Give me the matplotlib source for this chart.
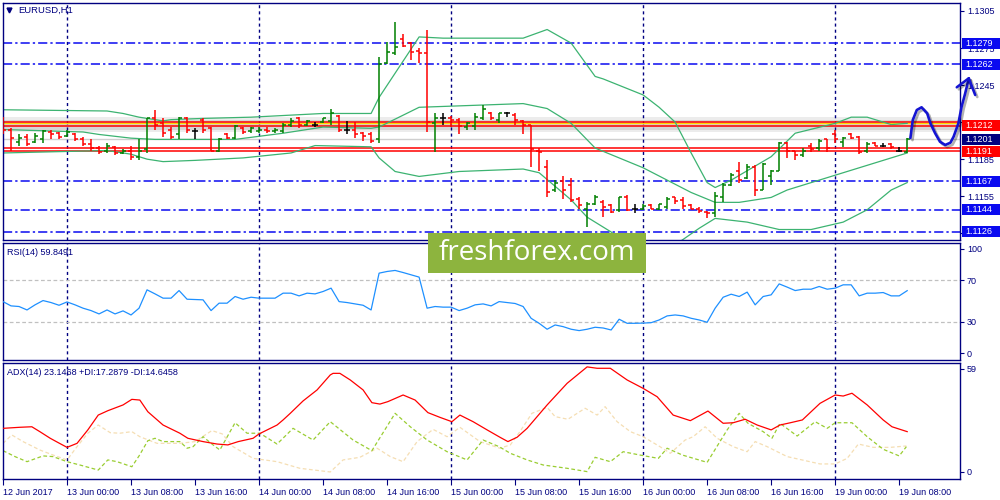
import matplotlib
matplotlib.use("Agg")
import matplotlib.pyplot as plt
import matplotlib.patheffects as pe
from matplotlib.patches import Rectangle
from matplotlib.transforms import blended_transform_factory
import numpy as np

plt.rcParams['font.family'] = ['Liberation Sans', 'DejaVu Sans']

NAVY = '#000080'
BLUE = '#0a0af0'

# time axis (bar index -> label)
label_bars = [0, 8, 16, 24, 32, 40, 48, 56, 64, 72, 80, 88, 96, 104, 112]
time_labels = ["12 Jun 2017", "13 Jun 00:00", "13 Jun 08:00", "13 Jun 16:00",
               "14 Jun 00:00", "14 Jun 08:00", "14 Jun 16:00", "15 Jun 00:00",
               "15 Jun 08:00", "15 Jun 16:00", "16 Jun 00:00", "16 Jun 08:00",
               "16 Jun 16:00", "19 Jun 00:00", "19 Jun 08:00"]
day_breaks = [8, 32, 56, 80, 104]

# EURUSD H1 bars, in points (price * 1e4)
opens_pt = [11217, 11209, 11199, 11203, 11199, 11201, 11207, 11206, 11204, 11205,
            11201, 11197, 11194, 11192, 11195, 11190, 11192, 11187, 11193, 11218,
            11214, 11209, 11205, 11218, 11208, 11217, 11210, 11192, 11205, 11202,
            11210, 11208, 11208, 11209, 11208, 11208, 11213, 11218, 11213, 11213,
            11215, 11216, 11220, 11209, 11209, 11206, 11205, 11201, 11263, 11271,
            11282, 11279, 11273, 11271, 11214, 11218, 11218, 11217, 11211, 11212,
            11218, 11222, 11217, 11222, 11221, 11216, 11213, 11192, 11179, 11160,
            11167, 11164, 11153, 11145, 11149, 11150, 11148, 11144, 11154, 11145,
            11145, 11148, 11145, 11146, 11154, 11152, 11148, 11145, 11142, 11141,
            11154, 11164, 11175, 11170, 11179, 11160, 11171, 11175, 11198, 11192,
            11188, 11196, 11194, 11201, 11205, 11199, 11205, 11203, 11192, 11198,
            11196, 11197, 11192, 11191]
highs_pt = [11219, 11210, 11205, 11205, 11206, 11209, 11209, 11207, 11209, 11206,
            11203, 11201, 11196, 11198, 11196, 11193, 11196, 11201, 11218, 11225,
            11218, 11211, 11219, 11219, 11210, 11218, 11211, 11202, 11206, 11213,
            11211, 11211, 11211, 11211, 11210, 11214, 11218, 11219, 11217, 11215,
            11218, 11226, 11221, 11216, 11215, 11207, 11207, 11268, 11280, 11296,
            11286, 11280, 11275, 11290, 11222, 11222, 11220, 11218, 11215, 11222,
            11229, 11223, 11222, 11223, 11222, 11217, 11213, 11194, 11184, 11168,
            11171, 11170, 11154, 11150, 11156, 11152, 11149, 11154, 11156, 11149,
            11149, 11149, 11149, 11154, 11154, 11154, 11149, 11146, 11143, 11158,
            11166, 11174, 11183, 11181, 11180, 11182, 11176, 11199, 11199, 11192,
            11194, 11198, 11201, 11201, 11209, 11203, 11206, 11204, 11199, 11199,
            11198, 11198, 11195, 11202]
lows_pt = [11205, 11192, 11196, 11196, 11198, 11198, 11201, 11201, 11203, 11200,
           11196, 11192, 11189, 11190, 11188, 11189, 11184, 11184, 11190, 11209,
           11203, 11201, 11201, 11206, 11201, 11206, 11192, 11191, 11201, 11201,
           11205, 11206, 11206, 11206, 11206, 11206, 11211, 11210, 11212, 11211,
           11214, 11213, 11207, 11205, 11202, 11200, 11198, 11198, 11262, 11269,
           11276, 11265, 11263, 11207, 11191, 11213, 11211, 11205, 11209, 11209,
           11217, 11217, 11214, 11219, 11213, 11205, 11179, 11175, 11154, 11158,
           11153, 11150, 11145, 11130, 11148, 11138, 11141, 11142, 11143, 11141,
           11144, 11145, 11144, 11145, 11149, 11145, 11145, 11141, 11137, 11138,
           11150, 11163, 11166, 11169, 11155, 11160, 11164, 11175, 11186, 11184,
           11187, 11191, 11192, 11191, 11198, 11195, 11201, 11189, 11190, 11196,
           11195, 11193, 11191, 11190]
closes_pt = [11209, 11202, 11202, 11197, 11204, 11208, 11205, 11203, 11207, 11201,
             11197, 11194, 11191, 11196, 11190, 11192, 11187, 11192, 11218, 11213,
             11206, 11203, 11218, 11209, 11208, 11209, 11192, 11201, 11202, 11212,
             11207, 11210, 11209, 11208, 11209, 11213, 11216, 11213, 11216, 11213,
             11218, 11222, 11209, 11209, 11205, 11204, 11200, 11262, 11272, 11276,
             11277, 11272, 11271, 11215, 11218, 11218, 11217, 11212, 11214, 11219,
             11226, 11218, 11222, 11222, 11217, 11213, 11193, 11191, 11158, 11166,
             11160, 11152, 11148, 11149, 11154, 11146, 11142, 11154, 11144, 11145,
             11147, 11145, 11149, 11153, 11151, 11147, 11145, 11143, 11141, 11155,
             11164, 11172, 11168, 11179, 11160, 11181, 11175, 11198, 11192, 11188,
             11192, 11193, 11200, 11194, 11201, 11202, 11202, 11191, 11197, 11196,
             11196, 11195, 11192, 11201]

# Bollinger bands (20)
bb_upper_t = [0, 13, 15, 17, 20, 21, 25, 31, 40, 46, 47, 52, 55, 65, 68, 71, 74, 75,
              80, 82, 84, 86, 88, 89, 91, 96, 99, 104, 106, 108, 111, 113]
bb_upper_pt = [11225, 11224, 11222, 11219, 11216, 11217, 11218, 11219, 11222, 11222,
               11235, 11284, 11283, 11283, 11290, 11279, 11252, 11250, 11237, 11227,
               11215, 11190, 11166, 11162, 11168, 11187, 11206, 11214, 11219, 11219,
               11213, 11214]
bb_mid_t = [0, 10, 12, 16, 19, 29, 35, 40, 46, 47, 52, 65, 68, 71, 74, 80, 86, 89,
            92, 96, 98, 104, 109, 113]
bb_mid_pt = [11209, 11207, 11205, 11202, 11201, 11201, 11206, 11211, 11210, 11211,
             11227, 11230, 11226, 11214, 11194, 11178, 11158, 11150, 11150, 11154,
             11160, 11172, 11182, 11190]
bb_lower_t = [0, 13, 16, 18, 20, 24, 30, 36, 39, 46, 47, 49, 52, 57, 65, 67, 71, 73,
              76, 79, 82, 85, 87, 89, 93, 97, 101, 105, 108, 111, 113]
bb_lower_pt = [11190, 11192, 11189, 11185, 11183, 11184, 11186, 11190, 11196, 11195,
               11186, 11175, 11171, 11175, 11177, 11174, 11152, 11138, 11126, 11111,
               11107, 11120, 11129, 11137, 11134, 11128, 11128, 11134, 11144, 11160,
               11166]

# RSI(14), one value per bar
rsi = [49.3, 45.2, 44.6, 41.3, 46.2, 50.3, 48.4, 45.8, 49.0, 46.2,
       43.0, 40.7, 37.5, 41.3, 37.5, 40.4, 36.5, 43.0, 60.6, 56.7,
       52.6, 52.6, 59.9, 51.6, 51.3, 51.0, 40.7, 47.8, 47.8, 54.2,
       51.6, 53.5, 52.6, 52.6, 52.6, 57.4, 57.4, 54.8, 57.4, 56.7,
       59.0, 62.2, 49.3, 48.4, 47.1, 45.8, 41.3, 76.6, 78.2, 79.2,
       77.2, 75.0, 72.8, 43.0, 44.6, 44.0, 44.0, 40.7, 43.0, 46.2,
       47.1, 45.2, 49.3, 48.4, 47.5, 44.6, 33.3, 28.5, 22.8, 26.9,
       25.3, 22.8, 21.5, 22.8, 24.7, 24.0, 22.1, 32.4, 28.5, 28.5,
       28.7, 29.1, 31.7, 35.6, 36.5, 35.6, 33.3, 31.7, 29.5, 43.0,
       53.5, 56.4, 54.2, 58.4, 46.2, 54.2, 55.8, 66.3, 63.2, 59.9,
       61.2, 61.2, 63.8, 61.2, 62.2, 65.4, 65.4, 54.8, 57.4, 57.4,
       58.0, 54.8, 54.8, 59.8]

# ADX(14)
adx_t = [0, 2.1, 3.6, 4.6, 5.9, 6.9, 8, 9.25, 10.6, 11.9,
         13.1, 15, 16.1, 17.1, 18.1, 20, 22.1, 23.1, 25, 26.75,
         28.1, 29.4, 31.25, 32, 34.25, 35, 35.9, 37.5, 39.25, 40.9,
         41.25, 42.1, 43.4, 45, 46.1, 47.1, 48.1, 50, 51.5, 53.1,
         54.6, 56.1, 57.1, 58.75, 60.5, 62.1, 63.1, 64.25, 65.5, 68,
         70.5, 73, 74.25, 75.9, 78, 80, 81.75, 83.75, 85.9, 88.1,
         90, 91.25, 92.75, 94.25, 96, 97.1, 98.4, 99.9, 102.1, 104,
         105, 106.1, 108, 110, 111.1, 113]
adx = [25.0, 25.6, 25.9, 23.1, 19.3, 16.8, 14.1, 16.4, 24.1, 32.6,
       35.1, 38.4, 41.6, 41.2, 34.5, 26.9, 22.2, 19.3, 17.4, 16.0,
       15.5, 17.4, 19.3, 21.8, 26.9, 29.8, 33.6, 40.7, 47.0, 55.6,
       56.5, 56.5, 52.7, 47.0, 39.7, 38.9, 40.3, 44.1, 41.2, 34.0,
       31.3, 28.8, 32.6, 28.8, 24.1, 19.9, 17.4, 19.9, 25.0, 38.4,
       50.8, 60.2, 59.4, 59.4, 52.7, 47.9, 43.1, 32.6, 29.4, 34.9,
       27.9, 28.2, 30.2, 26.9, 24.1, 26.9, 28.2, 29.8, 39.3, 44.1,
       43.5, 45.1, 38.4, 29.8, 25.9, 23.1]
pdi_t = [0, 1.5, 3, 5, 6.25, 8, 9.6, 11.9, 13.1, 14.25,
         16.1, 17, 18.1, 19, 20, 22.1, 23, 23.75, 25, 26.25,
         27.1, 29, 30.5, 32.1, 34.25, 36.25, 38.75, 40.9, 43.75, 46.1,
         49, 50.9, 53, 55.5, 58, 60, 62, 63.4, 65.5, 67.5,
         70.5, 73, 74, 75.9, 77.5, 79.6, 81.9, 83, 84.9, 88,
         90.5, 92, 93.1, 95, 96.1, 97.1, 99.25, 101.5, 103, 104,
         106.1, 108, 110, 112, 112.9]
pdi = [12.2, 8.8, 5.9, 9.2, 8.8, 5.9, 4.0, 1.1, 6.9, 5.9,
       3.0, 9.2, 17.9, 19.3, 17.4, 17.4, 13.6, 14.5, 20.2, 15.5,
       12.6, 28.2, 22.2, 22.2, 16.0, 25.0, 18.3, 28.8, 18.3, 12.2,
       33.6, 25.9, 18.3, 11.6, 6.9, 18.3, 14.5, 10.7, 6.9, 4.0,
       2.1, 0.2, 8.4, 5.9, 11.6, 9.7, 7.8, 13.6, 9.7, 5.5,
       24.1, 33.6, 27.9, 23.1, 19.3, 27.9, 20.6, 28.8, 25.0, 28.2,
       28.2, 20.2, 13.0, 9.2, 14.5]
mdi_t = [0, 1.1, 2.5, 4.6, 6.25, 8, 9.25, 10.6, 11.9, 13.4,
         14.6, 16.1, 17.1, 19.25, 22.1, 24, 26.1, 27.4, 28.75, 31.25,
         34.25, 37.1, 40.9, 42.5, 44.6, 46.75, 48.4, 50, 51.75, 53.75,
         55.5, 57.1, 59.6, 62.1, 63.4, 64.6, 66.1, 68, 69, 70.6,
         72.75, 74.25, 75.25, 76.75, 78.4, 80, 82.1, 83.4, 85.25, 86.25,
         87.75, 89.25, 91.25, 93, 94, 95.5, 98, 102.1, 104, 105.5,
         106.9, 108.75, 110.9, 112.9]
mdi = [16.4, 21.2, 17.4, 12.6, 9.7, 6.9, 14.5, 22.2, 26.9, 22.5,
       22.2, 23.1, 20.2, 16.4, 16.4, 17.4, 23.7, 21.8, 14.5, 7.8,
       5.9, 2.1, 0.0, 6.9, 8.4, 13.6, 8.8, 5.9, 17.4, 24.4,
       20.2, 25.6, 17.4, 13.6, 15.5, 23.1, 33.6, 37.0, 31.7, 30.2,
       36.5, 32.6, 37.4, 28.8, 23.1, 20.2, 14.5, 10.7, 18.3, 20.2,
       25.9, 19.3, 14.5, 11.6, 17.4, 14.5, 8.8, 4.6, 4.6, 7.8,
       16.0, 14.1, 14.1, 14.9]

# levels drawn on the chart
blue_levels = [1.1279, 1.1262, 1.1167, 1.1144, 1.1126]
red_upper = [1.12148, 1.12118]
red_lower = [1.11939, 1.11917]
bid_price = 1.1201
price_ticks = [1.1305, 1.1275, 1.1245, 1.1215, 1.1185, 1.1155, 1.1125]
price_boxes = [("1.1279", 1.1279, BLUE), ("1.1262", 1.1262, BLUE),
               ("1.1212", 1.1212, '#ff0000'), ("1.1201", 1.1201, NAVY),
               ("1.1191", 1.1191, '#ff0000'), ("1.1167", 1.1167, BLUE),
               ("1.1144", 1.1144, BLUE), ("1.1126", 1.1126, BLUE)]

# hand drawn forecast path
fc_t = [113.4, 113.7, 114.2, 114.8, 115.5, 115.9, 116.5, 117.1, 117.75, 118.4,
        118.8, 119.4, 119.8, 120.25, 120.7]
fc_p = [1.12021, 1.12167, 1.12248, 1.12270, 1.12221, 1.12140, 1.12059, 1.11991,
        1.11965, 1.11983, 1.12032, 1.12140, 1.12275, 1.12383, 1.12505]
fc_head_t = [119.2, 120.7, 121.5]
fc_head_p = [1.12432, 1.12505, 1.12370]

opens = np.array(opens_pt) / 1e4
highs = np.array(highs_pt) / 1e4
lows = np.array(lows_pt) / 1e4
closes = np.array(closes_pt) / 1e4
n = len(opens)
bars = np.arange(n)

fig = plt.figure(figsize=(10, 5), dpi=100, facecolor='white')
ax = fig.add_axes([0.0027, 0.52, 0.9573, 0.4746])
ax_rsi = fig.add_axes([0.0027, 0.28, 0.9573, 0.2346])
ax_adx = fig.add_axes([0.0027, 0.0414, 0.9573, 0.2332])

XMIN, XMAX = -0.04, 119.6
for a in (ax, ax_rsi, ax_adx):
    a.set_xlim(XMIN, XMAX)
    for s in a.spines.values():
        s.set_color(NAVY)
        s.set_linewidth(1.0)
    a.yaxis.tick_right()
    a.tick_params(axis='y', direction='out', length=3, width=0.8, color=NAVY,
                  labelcolor=NAVY, labelsize=6.5, pad=2)
    for d in day_breaks:
        a.axvline(d, color=NAVY, lw=1.0, ls=(0, (2.2, 2.2)), zorder=1)

# ---- price panel
ax.set_ylim(1.111951, 1.131172)
ax.set_xticks([])
ax.set_yticks(price_ticks)
ax.set_yticklabels(["%.4f" % v for v in price_ticks])

for lv in blue_levels:
    ax.axhline(lv, color=BLUE, lw=1.1, ls=(0, (6, 2, 1.5, 2)), zorder=1)

# glow around the upper red zone
ax.axhspan(1.12070, 1.12190, color='#ececec', lw=0, zorder=0.5)
ax.axhspan(1.12090, 1.12170, color='#d6d6d6', lw=0, zorder=0.6)
ax.axhline(bid_price, color='#cfcfcf', lw=1.0, zorder=0.7)
for lv in red_upper + red_lower:
    ax.axhline(lv, color='#ff0000', lw=1.1, zorder=1.2)
ax.axhline(1.12140, color='#ffd800', lw=1.0, zorder=1.1)

ax.plot(bb_upper_t, np.array(bb_upper_pt) / 1e4, color='#3cb371', lw=0.9, zorder=2)
ax.plot(bb_mid_t, np.array(bb_mid_pt) / 1e4, color='#3cb371', lw=0.9, zorder=2)
ax.plot(bb_lower_t, np.array(bb_lower_pt) / 1e4, color='#3cb371', lw=0.9, zorder=2)

cols = np.where(closes > opens, '#008000', np.where(closes < opens, '#ff0000', '#000000'))
tick = 0.4
ax.vlines(bars, lows, highs, colors=cols, lw=1.1, zorder=3)
ax.hlines(opens, bars - tick, bars, colors=cols, lw=1.1, zorder=3)
ax.hlines(closes, bars, bars + tick, colors=cols, lw=1.1, zorder=3)

ax.plot([0.0066], [0.969], marker='v', ms=3.5, color=NAVY, transform=ax.transAxes)
ax.text(0.016, 0.969, "EURUSD,H1", transform=ax.transAxes, fontsize=6.8,
        color=NAVY, va='center', ha='left')

shadow = [pe.SimpleLineShadow(offset=(1.5, -1.5), shadow_color='k', alpha=0.3),
          pe.Normal()]
ax.plot(fc_t, fc_p, color='#1414d2', lw=1.9, solid_capstyle='round',
        clip_on=False, zorder=10, path_effects=shadow)
ax.plot(fc_head_t, fc_head_p, color='#1414d2', lw=1.9, solid_capstyle='round',
        solid_joinstyle='round', clip_on=False, zorder=10, path_effects=shadow)

# coloured price boxes on the scale
blend = blended_transform_factory(fig.transFigure, ax.transData)
box_h = 0.00089
for txt, lv, c in price_boxes:
    fig.add_artist(Rectangle((0.9617, lv - box_h / 2), 0.0383, box_h, transform=blend,
                             facecolor=c, edgecolor='none', zorder=5))
    fig.text(0.9655, lv, txt, transform=blend, color='white', fontsize=6.5,
             va='center', ha='left', zorder=6)

# ---- RSI panel
ax_rsi.set_ylim(-6.7, 105.8)
ax_rsi.set_xticks([])
ax_rsi.set_yticks([100, 70, 30, 0])
for lv in (70, 30):
    ax_rsi.axhline(lv, color='#c0c0c0', lw=0.9, ls=(0, (3, 2)), zorder=1)
ax_rsi.plot(bars, rsi, color='#1e90ff', lw=0.9, zorder=3)
ax_rsi.text(0.0045, 0.92, "RSI(14) 59.8491", transform=ax_rsi.transAxes,
            fontsize=6.5, color=NAVY, va='center', ha='left')

# ---- ADX panel
ax_adx.set_ylim(-4.2, 62.6)
ax_adx.set_yticks([59, 0])
ax_adx.plot(mdi_t, mdi, color='#f5deb3', lw=0.9, ls=(0, (3, 2)), zorder=2)
ax_adx.plot(pdi_t, pdi, color='#9acd32', lw=0.9, ls=(0, (3, 2)), zorder=2)
ax_adx.plot(adx_t, adx, color='#ff0000', lw=0.9, zorder=3)
ax_adx.text(0.0045, 0.92, "ADX(14) 23.1468 +DI:17.2879 -DI:14.6458",
            transform=ax_adx.transAxes, fontsize=6.5, color=NAVY, va='center', ha='left')
ax_adx.set_xticks(label_bars)
ax_adx.set_xticklabels(time_labels, ha='left')
ax_adx.tick_params(axis='x', direction='out', length=4, width=0.8, color=NAVY,
                   labelcolor=NAVY, labelsize=6.5, pad=2)

# watermark
fig.add_artist(Rectangle((0.428, 0.454), 0.218, 0.08, transform=fig.transFigure,
                         facecolor='#8db43e', edgecolor='none', zorder=10))
fig.text(0.537, 0.493, "freshforex.com", color='white', fontsize=20,
         family=['Open Sans', 'DejaVu Sans'], ha='center', va='center', zorder=11)

fig.savefig("out.png", dpi=100, facecolor='white')
